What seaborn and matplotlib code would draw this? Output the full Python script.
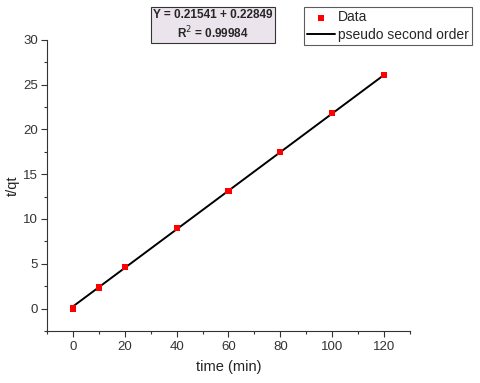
import matplotlib
matplotlib.use("Agg")
import matplotlib.pyplot as plt
import seaborn as sns
import pandas as pd
from matplotlib.ticker import MultipleLocator

time_min = [0, 10, 20, 40, 60, 80, 100, 120]
t_qt = [0.0, 2.35, 4.68, 8.95, 13.15, 17.5, 21.8, 26.1]
fit_x = [0, 120]
fit_y = [0.22849, 26.078]

sns.set_style("ticks")
plt.rcParams['font.family'] = ['Liberation Sans', 'DejaVu Sans']

df = pd.DataFrame({"time": time_min, "tqt": t_qt})
fit = pd.DataFrame({"time": fit_x, "tqt": fit_y})

fig = plt.figure(figsize=(4.8, 3.83), dpi=100)
ax = fig.add_axes([0.098, 0.136, 0.756, 0.76])

sns.lineplot(data=fit, x="time", y="tqt", ax=ax, color="black", linewidth=1.4,
             label="pseudo second order", zorder=2)
sns.scatterplot(data=df, x="time", y="tqt", ax=ax, marker="s", color="#ff0000",
                s=20, edgecolor="none", label="Data", zorder=3)

ax.set_xlim(-10, 130)
ax.set_ylim(-2.5, 30)
ax.xaxis.set_major_locator(MultipleLocator(20))
ax.xaxis.set_minor_locator(MultipleLocator(10))
ax.yaxis.set_major_locator(MultipleLocator(5))
ax.yaxis.set_minor_locator(MultipleLocator(2.5))
ax.tick_params(which="major", length=4, width=0.8, labelsize=9.5, colors="#333333", labelcolor="#333333")
ax.tick_params(axis="y", which="major", pad=2.5)
ax.tick_params(which="minor", length=2.5, width=0.8, colors="#333333")
for s in ["top", "right"]:
    ax.spines[s].set_visible(False)
for s in ["left", "bottom"]:
    ax.spines[s].set_color("#333333")
    ax.spines[s].set_linewidth(0.8)
ax.set_xlabel("time (min)", fontsize=10.5, color="#222222", labelpad=5)
ax.set_ylabel("t/qt", fontsize=10.5, color="#222222")
ax.yaxis.set_label_coords(-0.075, 0.5)

handles, labels = ax.get_legend_handles_labels()
order = [labels.index("Data"), labels.index("pseudo second order")]
leg = ax.legend([handles[i] for i in order], [labels[i] for i in order],
                loc="upper left", bbox_to_anchor=(304/480, 1 - 7/383),
                bbox_transform=fig.transFigure, frameon=True, fancybox=False,
                edgecolor="#333333", fontsize=10, borderpad=0.25,
                handlelength=2.0, handletextpad=0.2, labelspacing=0.25,
                borderaxespad=0)
leg.get_frame().set_linewidth(0.8)

fig.text(213/480, 1 - 25/383, "Y = 0.21541 + 0.22849\nR$^2$ = 0.99984",
         ha="center", va="center", fontsize=8.5, fontweight="bold",
         linespacing=1.25,
         bbox=dict(boxstyle="square,pad=0.2", facecolor="#ece4ec",
                   edgecolor="#333333", linewidth=0.8))

fig.savefig("out.png", dpi=100)
